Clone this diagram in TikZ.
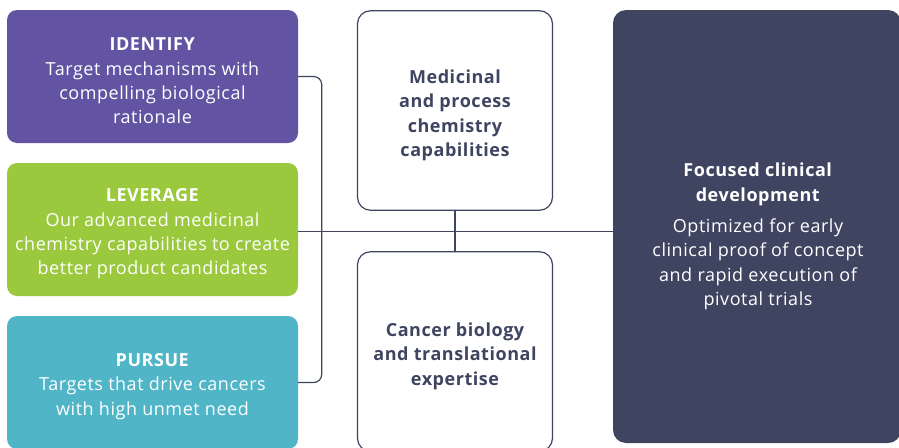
\documentclass[tikz,border=0pt]{standalone}
\usepackage{fontspec}
\setmainfont{Open Sans}[LetterSpace=3]
\usetikzlibrary{calc}
\definecolor{idpurple}{HTML}{6254A3}
\definecolor{levgreen}{HTML}{9BC93D}
\definecolor{purteal}{HTML}{4FB5C7}
\definecolor{slate}{HTML}{3F4561}
\begin{document}
\begin{tikzpicture}[x=1pt,y=-1pt,
  txt/.style={font=\fontsize{18}{24.4}\selectfont, align=center, inner sep=0pt},
  colbox/.style={rounded corners=10pt, minimum width=291pt, minimum height=133pt,
    inner sep=0pt},
  capbox/.style={draw=slate, line width=1.2pt, rounded corners=13pt, fill=white,
    minimum width=195pt, minimum height=199.5pt, inner sep=0pt},
  captxt/.style={txt, text=slate, font=\fontsize{18}{24.4}\selectfont\bfseries},
  conn/.style={draw=slate, line width=1.2pt}]
\useasboundingbox (0,0) rectangle (899,447);
\clip (0,0) rectangle (899,447);

% three stages on the left
\node[colbox, fill=idpurple] (identify) at (152.5,76.5) {};
\node[colbox, fill=levgreen] (leverage) at (152.5,229.5) {};
\node[colbox, fill=purteal] (pursue) at (152.5,382.5) {};
\node[txt, text=white] (identify-t) at ($(identify)+(0,4.5)$)
  {\textbf{IDENTIFY}\\Target mechanisms with\\compelling biological\\rationale};
\node[txt, text=white] (leverage-t) at ($(leverage)+(0,4.5)$)
  {\textbf{LEVERAGE}\\Our advanced medicinal\\chemistry capabilities to create\\better product candidates};
\node[txt, text=white] (pursue-t) at ($(pursue)+(0,4)$)
  {\textbf{PURSUE}\\Targets that drive cancers\\with high unmet need};

% two core capabilities
\node[capbox] (medchem) at (455,110.5) {};
\node[capbox] (cancer) at (455,351.5) {};
\node[captxt] (medchem-t) at ($(medchem)+(0,5)$)
  {Medicinal\\and process\\chemistry\\capabilities};
\node[captxt] (cancer-t) at ($(cancer)+(0,4.5)$)
  {Cancer biology\\and translational\\expertise};

% clinical development
\node[fill=slate, rounded corners=13pt, minimum width=288pt, minimum height=433pt,
  inner sep=0pt] (focus) at (757,226.5) {};
\node[txt, text=white] (focus-t) at ($(focus)+(1,10)$)
  {\textbf{Focused clinical}\\\textbf{development}\\[7pt]Optimized for early\\clinical proof of concept\\and rapid execution of\\pivotal trials};

% connectors
\draw[conn, rounded corners=8pt] (identify.east) -- ++(23.5,0) |- (pursue.east);
\draw[conn] ($(leverage.east)+(0,2)$) -- ($(leverage.east -| focus.west)+(0,2)$);
\draw[conn] (medchem.south) -- (cancer.north);
\end{tikzpicture}
\end{document}
